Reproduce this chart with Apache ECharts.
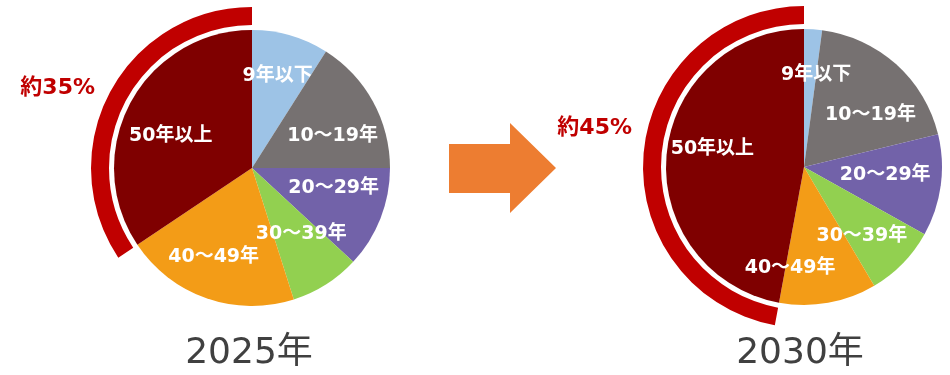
<!DOCTYPE html>
<html lang="ja">

<head>
    <meta charset="UTF-8">
    <title>年齢構成 2025年 / 2030年</title>
    <script src="https://cdn.jsdelivr.net/npm/echarts@6/dist/echarts.min.js"></script>
    <style>
        html, body { margin: 0; padding: 0; background: #fff; }
        #chart { width: 950px; height: 375px; }
    </style>
</head>

<body>
    <div id="chart"></div>
    <script>
        // データ
        const categories = ['9年以下', '10～19年', '20～29年', '30～39年', '40～49年', '50年以上'];
        const share2025 = [9.0, 16.0, 11.9, 8.2, 20.5, 34.4];
        const share2030 = [2.1, 19.1, 11.9, 8.4, 11.4, 47.1];
        const years = ['2025年', '2030年'];
        const notes = ['約35%', '約45%'];
        const sliceColors = ['#9dc3e6', '#767171', '#7262a9', '#92d050', '#f39c17', '#7f0000'];

        // ラベル位置の微調整 (px)
        const labelOffsets = [
            [[0, -4], [0, 12], [-4, -14], [0, -12], [-8, 2], [0, 11]],
            [[6, 0], [5, 16], [-10, -4], [-8, 5], [-30, 10], [0, -10]]
        ];

        const centers = [[252, 168], [804, 167]];
        const LABEL_FONT = '"DejaVu Sans", "Noto Sans CJK JP", sans-serif';

        function pieSeries(values, center, offsets) {
            const data = values.map((v, i) => ({ name: categories[i], value: v }));
            return [
                // 本体
                {
                    type: 'pie',
                    center: center,
                    radius: [0, 138],
                    startAngle: 90,
                    clockwise: true,
                    silent: true,
                    label: { show: false },
                    labelLine: { show: false },
                    itemStyle: { borderWidth: 0 },
                    color: sliceColors,
                    data: data
                },
                // ラベル用（透明）
                {
                    type: 'pie',
                    center: center,
                    radius: [40, 138],
                    startAngle: 90,
                    clockwise: true,
                    silent: true,
                    avoidLabelOverlap: false,
                    labelLayout: { hideOverlap: false },
                    z: 5,
                    itemStyle: { color: 'rgba(0,0,0,0)', borderWidth: 0 },
                    label: {
                        show: true,
                        position: 'inside',
                        rotate: 0,
                        color: '#fff',
                        fontFamily: LABEL_FONT,
                        fontWeight: 'bold',
                        fontSize: 19,
                        formatter: '{b}'
                    },
                    labelLine: { show: false },
                    data: data.map((d, i) => ({
                        name: d.name,
                        value: d.value,
                        label: { offset: offsets[i] }
                    }))
                },
                // 50年以上の外側の弧
                {
                    type: 'pie',
                    center: center,
                    radius: [143, 161],
                    startAngle: 90,
                    clockwise: true,
                    silent: true,
                    label: { show: false },
                    labelLine: { show: false },
                    data: data.map((d, i) => ({
                        name: d.name,
                        value: d.value,
                        itemStyle: {
                            color: i === data.length - 1 ? '#c00000' : 'rgba(0,0,0,0)',
                            borderWidth: 0
                        }
                    }))
                }
            ];
        }

        const myChart = echarts.init(document.getElementById('chart'));

        const option = {
            backgroundColor: '#fff',
            animation: false,
            series: [
                ...pieSeries(share2025, centers[0], labelOffsets[0]),
                ...pieSeries(share2030, centers[1], labelOffsets[1])
            ],
            graphic: [
                // 矢印
                {
                    type: 'polygon',
                    shape: {
                        points: [[449, 144], [510, 144], [510, 123], [556, 168], [510, 213], [510, 193], [449, 193]]
                    },
                    style: { fill: '#ed7d31' }
                },
                {
                    type: 'text',
                    x: 95, y: 88,
                    style: {
                        text: notes[0], fill: '#c00000', font: 'bold 22px ' + LABEL_FONT,
                        textAlign: 'right', textVerticalAlign: 'middle'
                    }
                },
                {
                    type: 'text',
                    x: 632, y: 128,
                    style: {
                        text: notes[1], fill: '#c00000', font: 'bold 22px ' + LABEL_FONT,
                        textAlign: 'right', textVerticalAlign: 'middle'
                    }
                },
                {
                    type: 'text',
                    x: 249, y: 354,
                    style: {
                        text: years[0], fill: '#404040', font: '36px ' + LABEL_FONT,
                        textAlign: 'center', textVerticalAlign: 'middle'
                    }
                },
                {
                    type: 'text',
                    x: 800, y: 354,
                    style: {
                        text: years[1], fill: '#404040', font: '36px ' + LABEL_FONT,
                        textAlign: 'center', textVerticalAlign: 'middle'
                    }
                }
            ]
        };

        myChart.setOption(option);
    </script>
</body>

</html>
